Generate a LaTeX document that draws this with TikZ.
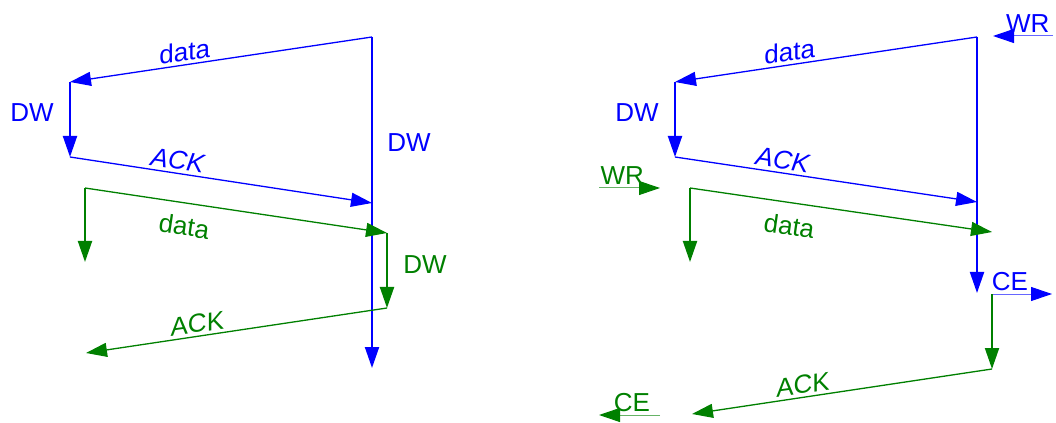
\documentclass[tikz,border=0pt]{standalone}
\usepackage{fontspec}
\setmainfont{Liberation Sans}
\usetikzlibrary{arrows.meta}
\definecolor{lblue}{RGB}{0,0,255}
\definecolor{lgreen}{RGB}{0,128,0}
\tikzset{
	msg/.style={line width=0.65pt},
	wait/.style={line width=1pt},
	stubb/.style={lblue!60,line width=0.5pt,-{Triangle[length=10.5pt,width=7pt,color=lblue]}},
	stubg/.style={lgreen!60,line width=0.5pt,-{Triangle[length=10.5pt,width=7pt,color=lgreen]}},
	lbl/.style={font=\fontsize{13}{15}\selectfont,inner sep=1.5pt}
}
\begin{document}
\begin{tikzpicture}[>={Triangle[length=10.5pt,width=7pt]},scale=0.7029]
		  \useasboundingbox (0,0) rectangle (26.4,-10.575);
		  \coordinate (b1) at (9.3,-0.925);
		  \coordinate (b2) at (9.3,-9.2);
		  \coordinate (b3) at (1.75,-2.05);
		  \coordinate (b4) at (1.75,-3.925);
		  \coordinate (b5) at (9.3,-5.075);
		  \coordinate (g1) at (2.125,-4.7);
		  \coordinate (g2) at (2.125,-6.55);
		  \coordinate (g3) at (9.675,-5.825);
		  \coordinate (g4) at (9.675,-7.7);
		  \coordinate (g5) at (2.15,-8.825);
		  \draw[lblue,wait,->] (b1) -- (b2);
		  \draw[lblue,msg,->] (b1) -- node[lbl,above,yslant=0.149,pos=0.62] (d1) {data} (b3);
		  \draw[lblue,wait,->] (b3) -- (b4);
		  \draw[lblue,msg,->] (b4) -- node[lbl,sloped,above,pos=0.35] (a1) {\itshape ACK} (b5);
		  \node[lbl,text=lblue] (w1) at (0.8,-2.825) {DW};
		  \node[lbl,text=lblue] (w2) at (10.225,-3.575) {DW};
		  \draw[lgreen,wait,->] (g1) -- (g2);
		  \draw[lgreen,msg,->] (g1) -- node[lbl,sloped,below=5pt,pos=0.34] (d2) {data} (g3);
		  \draw[lgreen,wait,->] (g3) -- (g4);
		  \draw[lgreen,msg,->] (g4) -- node[lbl,above,yslant=0.143,pos=0.63] (a2) {ACK} (g5);
		  \node[lbl,text=lgreen] (w3) at (10.625,-6.625) {DW};
		  \coordinate (c1) at (24.425,-0.925);
		  \coordinate (c2) at (24.425,-7.325);
		  \coordinate (c3) at (16.875,-2.05);
		  \coordinate (c4) at (16.875,-3.925);
		  \coordinate (c5) at (24.425,-5.05);
		  \coordinate (h1) at (17.25,-4.7);
		  \coordinate (h2) at (17.25,-6.55);
		  \coordinate (h3) at (24.8,-5.8);
		  \coordinate (h4) at (24.8,-7.35);
		  \coordinate (h5) at (24.8,-9.225);
		  \coordinate (h6) at (17.3,-10.35);
		  \coordinate (r1) at (26.325,-0.9);
		  \coordinate (r2) at (24.825,-0.9);
		  \coordinate (r3) at (14.975,-4.7);
		  \coordinate (r4) at (16.5,-4.7);
		  \coordinate (e1) at (26.3,-7.35);
		  \coordinate (e2) at (16.5,-10.375);
		  \coordinate (e3) at (14.975,-10.375);
		  \draw[stubb] (r1) -- node[lbl,above,pos=0.42,text=lblue] (r5) {WR} (r2);
		  \draw[lblue,wait,->] (c1) -- (c2);
		  \draw[lblue,msg,->] (c1) -- node[lbl,above,yslant=0.149,pos=0.62] (d3) {data} (c3);
		  \draw[lblue,wait,->] (c3) -- (c4);
		  \draw[lblue,msg,->] (c4) -- node[lbl,sloped,above,pos=0.35] (a3) {\itshape ACK} (c5);
		  \node[lbl,text=lblue] (w4) at (15.925,-2.825) {DW};
		  \draw[stubg] (r3) -- node[lbl,above,pos=0.38,text=lgreen] (r6) {WR} (r4);
		  \draw[lgreen,wait,->] (h1) -- (h2);
		  \draw[lgreen,msg,->] (h1) -- node[lbl,sloped,below=5pt,pos=0.34] (d4) {data} (h3);
		  \draw[stubb] (h4) -- node[lbl,above,pos=0.3,text=lblue] (e4) {CE} (e1);
		  \draw[lgreen,wait,->] (h4) -- (h5);
		  \draw[lgreen,msg,->] (h5) -- node[lbl,above,yslant=0.143,pos=0.63] (a4) {ACK} (h6);
		  \draw[stubg] (e2) -- node[lbl,above,pos=0.46,text=lgreen] (e5) {CE} (e3);
		\end{tikzpicture}
\end{document}
